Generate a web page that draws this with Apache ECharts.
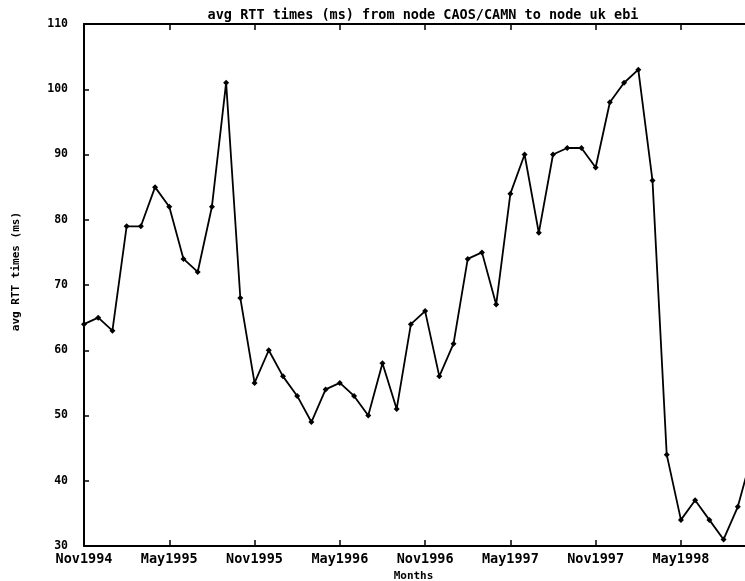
<!DOCTYPE html>
<html>
<head>
<meta charset="utf-8">
<script src="https://cdn.jsdelivr.net/npm/echarts@6/dist/echarts.min.js"></script>
<style>html,body{margin:0;padding:0;background:#fff;}#c{width:745px;height:581px;}</style>
</head>
<body>
<div id="c"></div>
<script>
const months = [
  "Nov1994","Dec1994","Jan1995","Feb1995","Mar1995","Apr1995","May1995","Jun1995","Jul1995","Aug1995","Sep1995","Oct1995",
  "Nov1995","Dec1995","Jan1996","Feb1996","Mar1996","Apr1996","May1996","Jun1996","Jul1996","Aug1996","Sep1996","Oct1996",
  "Nov1996","Dec1996","Jan1997","Feb1997","Mar1997","Apr1997","May1997","Jun1997","Jul1997","Aug1997","Sep1997","Oct1997",
  "Nov1997","Dec1997","Jan1998","Feb1998","Mar1998","Apr1998","May1998","Jun1998","Jul1998","Aug1998","Sep1998","Oct1998"
];
const rtt = [
  64, 65, 63, 79, 79, 85, 82, 74, 72, 82, 101, 68,
  55, 60, 56, 53, 49, 54, 55, 53, 50, 58, 51, 64,
  66, 56, 61, 74, 75, 67, 84, 90, 78, 90, 91, 91,
  88, 98, 101, 103, 86, 44, 34, 37, 34, 31, 36, 44
];
const yTicks = [30, 40, 50, 60, 70, 80, 90, 100, 110];

const FONT = "DejaVu Sans Mono";
const chart = echarts.init(document.getElementById('c'), null, {renderer: 'canvas'});
chart.setOption({
  backgroundColor: '#fff',
  animation: false,
  title: {
    text: 'avg RTT times (ms) from node CAOS/CAMN to node uk ebi',
    left: 418, top: 3, textAlign: 'center',
    textStyle: {fontFamily: FONT, fontWeight: 'bold', fontSize: 13.5, color: '#000'}
  },
  grid: {left: 84, top: 24, bottom: 35, right: -7, containLabel: false, outerBoundsMode: 'none'},
  xAxis: [{
    type: 'category', data: months, boundaryGap: false, position: 'bottom',
    name: 'Months', nameLocation: 'middle', nameGap: 22,
    nameTextStyle: {fontFamily: FONT, fontWeight: 'bold', fontSize: 11, color: '#000', padding: [0, 9, 0, 0]},
    axisLine: {lineStyle: {color: '#000', width: 2}},
    axisTick: {inside: true, length: 6, interval: 5, lineStyle: {color: '#000', width: 1.5}},
    axisLabel: {interval: 5, margin: 6, fontFamily: FONT, fontWeight: 'bold', fontSize: 13.5, color: '#000'},
    splitLine: {show: false}
  }, {
    type: 'category', data: months, boundaryGap: false, position: 'top',
    axisLine: {lineStyle: {color: '#000', width: 2}},
    axisTick: {inside: true, length: 6, interval: 5, lineStyle: {color: '#000', width: 1.5}},
    axisLabel: {show: false},
    splitLine: {show: false}
  }],
  yAxis: {
    type: 'value', min: 30, max: 110, interval: 10,
    axisLine: {show: true, lineStyle: {color: '#000', width: 2}},
    axisTick: {show: true, inside: true, length: 5, lineStyle: {color: '#000', width: 1.5}},
    axisLabel: {margin: 16, fontFamily: FONT, fontWeight: 'bold', fontSize: 11.5, color: '#000',
      formatter: v => yTicks.indexOf(v) >= 0 ? String(v) : ''},
    splitLine: {show: false}
  },
  graphic: [{
    type: 'text', left: 11, top: 212, rotation: Math.PI / 2,
    style: {text: 'avg RTT times (ms)', font: 'bold 11px "DejaVu Sans Mono"', fill: '#000'}
  }],
  series: [{
    type: 'line', data: rtt, xAxisIndex: 0,
    symbol: 'diamond', symbolSize: 6, showSymbol: true,
    lineStyle: {color: '#000', width: 1.8},
    itemStyle: {color: '#000'},
    clip: true
  }]
});
</script>
</body>
</html>
